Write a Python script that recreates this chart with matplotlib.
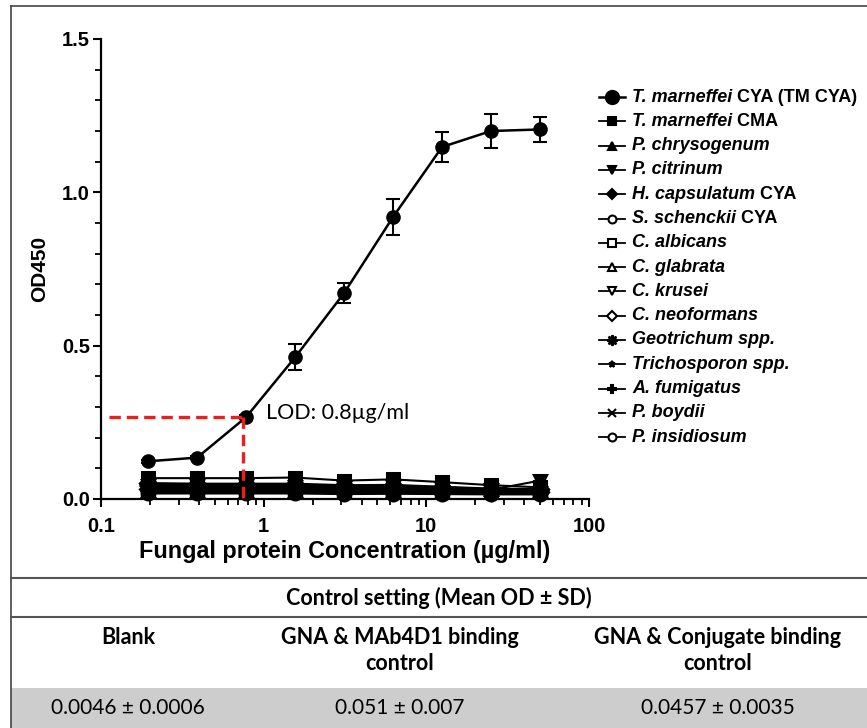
import matplotlib
matplotlib.use("Agg")
import matplotlib.pyplot as plt
from matplotlib.lines import Line2D
from matplotlib.patches import Rectangle
from matplotlib.ticker import FixedLocator, MultipleLocator, LogLocator, NullFormatter

# concentrations (two-fold dilutions, ug/ml)
conc = [0.195, 0.39, 0.78, 1.56, 3.125, 6.25, 12.5, 25, 50]

# T. marneffei CYA with SD
tm_cya = [0.123, 0.135, 0.267, 0.462, 0.672, 0.920, 1.148, 1.200, 1.205]
tm_cya_sd = [0.005, 0.005, 0.006, 0.042, 0.033, 0.058, 0.050, 0.057, 0.040]

# cross-reacting fungi
tm_cma = [0.068, 0.068, 0.068, 0.070, 0.060, 0.064, 0.055, 0.045, 0.038]
p_chrysogenum = [0.048, 0.047, 0.047, 0.046, 0.042, 0.044, 0.038, 0.032, 0.030]
p_citrinum = [0.042, 0.042, 0.042, 0.040, 0.036, 0.038, 0.034, 0.030, 0.060]
h_capsulatum = [0.052, 0.050, 0.050, 0.050, 0.045, 0.046, 0.040, 0.034, 0.032]
s_schenckii = [0.035, 0.035, 0.034, 0.034, 0.030, 0.031, 0.028, 0.025, 0.024]
c_albicans = [0.040, 0.040, 0.040, 0.041, 0.036, 0.038, 0.032, 0.030, 0.028]
c_glabrata = [0.030, 0.030, 0.030, 0.030, 0.027, 0.028, 0.025, 0.023, 0.022]
c_krusei = [0.028, 0.028, 0.027, 0.028, 0.025, 0.026, 0.024, 0.022, 0.021]
c_neoformans = [0.033, 0.033, 0.032, 0.031, 0.028, 0.029, 0.027, 0.024, 0.023]
geotrichum = [0.045, 0.044, 0.044, 0.043, 0.040, 0.041, 0.036, 0.030, 0.028]
trichosporon = [0.022, 0.022, 0.022, 0.022, 0.020, 0.021, 0.019, 0.018, 0.018]
a_fumigatus = [0.038, 0.037, 0.037, 0.036, 0.032, 0.033, 0.030, 0.026, 0.025]
p_boydii = [0.025, 0.025, 0.025, 0.024, 0.022, 0.023, 0.021, 0.020, 0.019]
p_insidiosum = [0.018, 0.018, 0.018, 0.018, 0.016, 0.017, 0.016, 0.015, 0.015]

others = [tm_cma, p_chrysogenum, p_citrinum, h_capsulatum, s_schenckii, c_albicans,
          c_glabrata, c_krusei, c_neoformans, geotrichum, trichosporon, a_fumigatus,
          p_boydii, p_insidiosum]

species = ["T. marneffei", "T. marneffei", "P. chrysogenum", "P. citrinum",
           "H. capsulatum", "S. schenckii", "C. albicans", "C. glabrata", "C. krusei",
           "C. neoformans", "Geotrichum spp.", "Trichosporon spp.", "A. fumigatus",
           "P. boydii", "P. insidiosum"]
suffixes = [" CYA (TM CYA)", " CMA", "", "", " CYA", " CYA", "", "", "", "", "", "", "", "", ""]

lod_x = 0.75
lod_label = "LOD: 0.8\u00b5g/ml"

table_title = "Control setting (Mean OD \u00b1 SD)"
table_cols = ["Blank", "GNA & MAb4D1 binding\ncontrol", "GNA & Conjugate binding\ncontrol"]
table_vals = ["0.0046 \u00b1 0.0006", "0.051 \u00b1 0.007", "0.0457 \u00b1 0.0035"]

# marker styles: (marker, filled, size)
styles = [("o", True, 9.5), ("s", True, 6), ("^", True, 6), ("v", True, 6), ("D", True, 5),
          ("o", False, 6), ("s", False, 6), ("^", False, 6), ("v", False, 6), ("D", False, 5.5),
          ((8, 1, 0), True, 8), ("*", True, 5), ("P", True, 6), ("x", True, 5.5), ("o", False, 6)]

plt.rcParams['font.family'] = ['Liberation Sans', 'DejaVu Sans']
plt.rcParams['font.weight'] = 'bold'
plt.rcParams['axes.labelweight'] = 'bold'

W, H = 867, 728
fig = plt.figure(figsize=(W / 100, H / 100), dpi=100)


def fx(px):
    return px / W


def fy(py):
    return 1 - py / H


ax = fig.add_axes([fx(101), fy(499), fx(589) - fx(101), fy(39) - fy(499)])

for vals, (m, filled, ms) in zip(others, styles[1:]):
    ax.plot(conc, vals, color="black", lw=1.5, marker=m, ms=ms * 1.55,
            mfc="black" if filled else "none", mec="black", mew=2.2, clip_on=False)

ax.errorbar(conc, tm_cya, yerr=tm_cya_sd, color="black", lw=1.8, marker="o", ms=9.5,
            capsize=5, capthick=1.5, elinewidth=1.5, zorder=5, clip_on=False)

# LOD guide
red = "#ee1c1c"
ax.plot([0.112, lod_x], [tm_cya[2], tm_cya[2]], color=red, lw=2.4, dashes=(3.4, 1.8), zorder=6)
ax.plot([lod_x, lod_x], [tm_cya[2], 0], color=red, lw=2.4, dashes=(3.4, 1.8), zorder=6)
ax.text(1.03, 0.28, lod_label, ha="left", va="center", fontsize=15.5, fontweight="normal",
        family=["Lato", "DejaVu Sans"])

ax.set_xscale("log")
ax.set_xlim(0.1, 100)
ax.set_ylim(0, 1.5)
ax.xaxis.set_major_locator(FixedLocator([0.1, 1, 10, 100]))
ax.set_xticklabels(["0.1", "1", "10", "100"])
ax.xaxis.set_minor_locator(LogLocator(base=10, subs=range(2, 10)))
ax.xaxis.set_minor_formatter(NullFormatter())
ax.yaxis.set_major_locator(FixedLocator([0, 0.5, 1.0, 1.5]))
ax.set_yticklabels(["0.0", "0.5", "1.0", "1.5"])
ax.yaxis.set_minor_locator(MultipleLocator(0.1))
for s in ["top", "right"]:
    ax.spines[s].set_visible(False)
for s in ["left", "bottom"]:
    ax.spines[s].set_linewidth(1.6)
ax.tick_params(which="major", length=6, width=1.5, labelsize=14.5, pad=2)
ax.tick_params(which="minor", length=4, width=1.3)
ax.tick_params(axis="x", which="major", pad=7)
ax.set_xlabel("Fungal protein Concentration (\u00b5g/ml)", fontsize=16.8, labelpad=3)
ax.set_ylabel("OD450", fontsize=15, labelpad=9)

# legend: italic species name followed by upright suffix
renderer = fig.canvas.get_renderer()
leg_y0, leg_dy = 97, 24.3
for i, (sp, suf) in enumerate(zip(species, suffixes)):
    y = fy(leg_y0 + i * leg_dy)
    m, filled, ms = styles[i]
    fig.add_artist(Line2D([fx(599), fx(625)], [y, y], color="black",
                          lw=1.8 if i == 0 else 1.3))
    fig.add_artist(Line2D([fx(612)], [y], color="black", marker=m, ms=ms if i == 0 else ms * 0.95,
                          mfc="black" if filled else "white", mec="black", mew=1.5, lw=0))
    t = fig.text(fx(632), y, sp, ha="left", va="center", fontsize=13, style="italic")
    if suf:
        bb = t.get_window_extent(renderer)
        fig.text(bb.x1 / W, y, suf, ha="left", va="center", fontsize=13)

# frame and table
edge = "#444444"
fig.add_artist(Rectangle((fx(11), 0), 1 - fx(11), fy(688), color="#cdcdcd", lw=0))
fig.add_artist(Line2D([fx(11), fx(11)], [0, fy(6)], color=edge, lw=1.2))
fig.add_artist(Line2D([fx(11), 1], [fy(6), fy(6)], color=edge, lw=1.2))
for py in [578, 617]:
    fig.add_artist(Line2D([fx(11), 1], [fy(py), fy(py)], color="#555555", lw=1.5))

tfont = ["Lato", "DejaVu Sans"]
fig.text(fx(439), fy(598), table_title, ha="center", va="center", fontsize=15.5,
         fontweight="bold", family=tfont)
col_x = [128, 400, 718]
for cx, c, v in zip(col_x, table_cols, table_vals):
    fig.text(fx(cx), fy(627), c, ha="center", va="top", fontsize=15.5, fontweight="bold",
             family=tfont, linespacing=1.3)
    fig.text(fx(cx), fy(708), v, ha="center", va="center", fontsize=15, fontweight="normal",
             family=tfont)

fig.savefig("out.png", dpi=100)
